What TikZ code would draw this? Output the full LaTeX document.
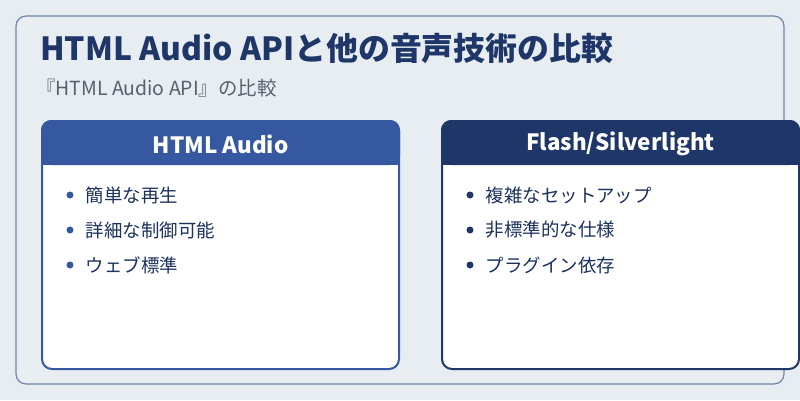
\documentclass[tikz,border=0pt]{standalone}
\usepackage{fontspec}
\setmainfont{Noto Sans CJK JP}
\usetikzlibrary{positioning}
\definecolor{bgcol}{HTML}{E8EDF2}
\definecolor{framecol}{HTML}{6F86AD}
\definecolor{navy}{HTML}{1E3768}
\definecolor{bluehead}{HTML}{3558A0}
\definecolor{subcol}{HTML}{56606E}
\tikzset{
  card/.style = {draw=#1, line width=2bp, fill=white, rounded corners=10bp},
  head/.style = {text=white, font=\fontsize{22.5}{27}\selectfont\bfseries},
  item/.style = {anchor=west, text=navy!90!black, font=\fontsize{18.5}{22}\selectfont, inner sep=0pt},
  dot/.style = {circle, fill=#1, inner sep=0pt, minimum size=7bp}
}
\begin{document}
\begin{tikzpicture}[x=1bp, y=-1bp]
\useasboundingbox (0,0) rectangle (800,400);
\fill[bgcol] (0,0) rectangle (800,400);
\draw[framecol, line width=1.2bp, rounded corners=10bp] (16,16) rectangle (784,384);
\node[anchor=west, inner sep=0pt, text=navy, font=\fontsize{32}{38}\selectfont\bfseries] (title) at (40,48) {HTML Audio APIと他の音声技術の比較};
\node[anchor=west, inner sep=0pt, text=subcol, font=\fontsize{19.5}{23}\selectfont] (sub) at (36,88) {『HTML Audio API』の比較};
% left card
\draw[card=bluehead] (42,121) rectangle (399,369);
\fill[bluehead, rounded corners=10bp] (41,120) -- (41,165) -- (400,165) -- (400,120) -- cycle;
\fill[bluehead] (41,145) rectangle (400,165);
\node[head] (lhead) at (220.5,144) {HTML Audio};
% right card
\draw[card=navy] (442,121) rectangle (799,369);
\fill[navy, rounded corners=10bp] (441,120) -- (441,165) -- (800,165) -- (800,120) -- cycle;
\fill[navy] (441,145) rectangle (800,165);
\node[head] (rhead) at (620.5,144) {Flash/Silverlight};
% items
\foreach \t [count=\i] in {簡単な再生, 詳細な制御可能, ウェブ標準}{
  \node[dot=bluehead] (ld\i) at (70,160+\i*35) {};
  \node[item, right=12bp of ld\i] (lt\i) {\t};
}
\foreach \t [count=\i] in {複雑なセットアップ, 非標準的な仕様, プラグイン依存}{
  \node[dot=navy] (rd\i) at (470,160+\i*35) {};
  \node[item, right=12bp of rd\i] (rt\i) {\t};
}
\end{tikzpicture}
\end{document}
